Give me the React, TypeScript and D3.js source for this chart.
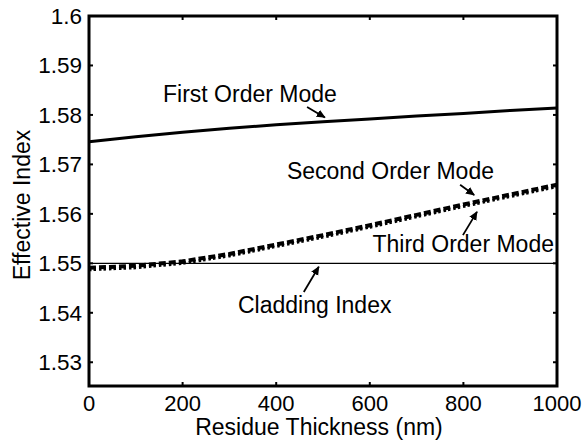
import * as d3 from "d3";

// residue thickness (nm)
const thickness = [0, 100, 200, 300, 400, 500, 600, 700, 800, 900, 1000];
const firstOrder = [1.5746, 1.5756, 1.5765, 1.5773, 1.578, 1.5786, 1.5792, 1.5798, 1.5803, 1.5809, 1.5814];
const secondOrder = [1.5491, 1.5495, 1.5504, 1.5519, 1.5538, 1.5557, 1.5577, 1.5598, 1.5619, 1.5639, 1.5659];
const thirdOrder = [1.5487, 1.5491, 1.55, 1.5515, 1.5534, 1.5553, 1.5573, 1.5594, 1.5615, 1.5635, 1.5655];
const claddingIndex = 1.55;

const xTicks = [0, 200, 400, 600, 800, 1000];
const yTicks = [1.53, 1.54, 1.55, 1.56, 1.57, 1.58, 1.59, 1.6];

const W = 583;
const H = 443;
const margin = { top: 16, right: 26, bottom: 57, left: 89 };
const FONT = "'Liberation Sans', Arial, Helvetica, sans-serif";

export default function App() {
  const x = d3.scaleLinear().domain([0, 1000]).range([margin.left, W - margin.right]);
  const y = d3.scaleLinear().domain([1.5252, 1.6]).range([H - margin.bottom, margin.top]);

  const line = d3
    .line<number>()
    .x((_, i) => x(thickness[i]))
    .y((d) => y(d));

  const x0 = x(0), x1 = x(1000), yb = y.range()[0], yt = y.range()[1];
  const tk = 4;

  // label + arrow (arrow ends in data units)
  const notes = [
    { text: "First Order Mode", tx: 163, ty: 102, anchor: "start", from: [466, 1.5816], to: [504, 1.5795] },
    { text: "Second Order Mode", tx: 494, ty: 179, anchor: "end", from: [793, 1.5659], to: [823, 1.5638] },
    { text: "Third Order Mode", tx: 554, ty: 252, anchor: "end", from: [799, 1.5557], to: [829, 1.5604] },
    { text: "Cladding Index", tx: 238, ty: 313, anchor: "start", from: [459, 1.5442], to: [491, 1.5493] },
  ];

  return (
    <svg width={W} height={H} style={{ display: "block", position: "absolute", left: 0, top: 0 }} fontFamily={FONT}>
      <defs>
        <marker id="ah" viewBox="0 0 10 10" refX="9" refY="5" markerWidth="5" markerHeight="5" orient="auto">
          <path d="M0,0.5 L10,5 L0,9.5 Z" fill="#000" />
        </marker>
      </defs>
      <rect width={W} height={H} fill="#fff" />

      {/* curves */}
      <line x1={x0} x2={x1} y1={y(claddingIndex)} y2={y(claddingIndex)} stroke="#000" strokeWidth={1.3} />
      <path d={line(firstOrder) ?? ""} fill="none" stroke="#000" strokeWidth={3} />
      <path d={line(secondOrder) ?? ""} fill="none" stroke="#000" strokeWidth={4} strokeDasharray="7,3" />
      <path d={line(thirdOrder) ?? ""} fill="none" stroke="#000" strokeWidth={3} strokeDasharray="2.5,2,2.5,3" />

      {/* box */}
      <rect x={x0} y={yt} width={x1 - x0} height={yb - yt} fill="none" stroke="#000" strokeWidth={3} />

      {/* ticks */}
      {xTicks.map((t) => (
        <g key={"x" + t}>
          <line x1={x(t)} x2={x(t)} y1={yb} y2={yb - tk} stroke="#000" strokeWidth={2} />
          <line x1={x(t)} x2={x(t)} y1={yt} y2={yt + tk} stroke="#000" strokeWidth={2} />
          <text x={x(t)} y={411} textAnchor="middle" fontSize={22}>
            {t}
          </text>
        </g>
      ))}
      {yTicks.map((t) => (
        <g key={"y" + t}>
          <line x1={x0} x2={x0 + tk} y1={y(t)} y2={y(t)} stroke="#000" strokeWidth={2} />
          <line x1={x1} x2={x1 - tk} y1={y(t)} y2={y(t)} stroke="#000" strokeWidth={2} />
          <text x={82} y={y(t) + 8} textAnchor="end" fontSize={22.5}>
            {d3.format(".2~f")(t)}
          </text>
        </g>
      ))}

      {/* annotations */}
      {notes.map((n) => (
        <g key={n.text}>
          <text x={n.tx} y={n.ty} fontSize={23} textAnchor={n.anchor}>
            {n.text}
          </text>
          <line
            x1={x(n.from[0])}
            y1={y(n.from[1])}
            x2={x(n.to[0])}
            y2={y(n.to[1])}
            stroke="#000"
            strokeWidth={1.8}
            markerEnd="url(#ah)"
          />
        </g>
      ))}

      {/* axis titles */}
      <text x={319} y={435} textAnchor="middle" fontSize={23}>
        Residue Thickness (nm)
      </text>
      <text transform={`translate(30,205) rotate(-90)`} textAnchor="middle" fontSize={23}>
        Effective Index
      </text>
    </svg>
  );
}
